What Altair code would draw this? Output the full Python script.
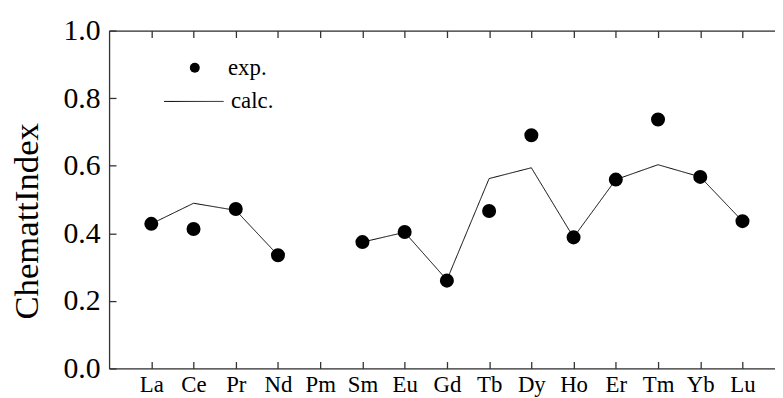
import altair as alt
import pandas as pd

elements = ["La", "Ce", "Pr", "Nd", "Pm", "Sm", "Eu", "Gd", "Tb", "Dy", "Ho", "Er", "Tm", "Yb", "Lu"]
exp_values = [0.428, 0.413, 0.472, 0.335, None, 0.374, 0.404, 0.260, 0.466, 0.690, 0.388, 0.559, 0.737, 0.567, 0.436]
calc_values = [0.428, 0.489, 0.468, 0.335, None, 0.374, 0.403, 0.262, 0.562, 0.594, 0.388, 0.559, 0.603, 0.567, 0.436]
y_tick_values = [0.0, 0.2, 0.4, 0.6, 0.8, 1.0]

positions = list(range(1, len(elements) + 1))
segments = []
s = 0
for v in calc_values:
    if v is None:
        s += 1
    segments.append(s)

calc_df = pd.DataFrame({"pos": positions, "element": elements, "value": calc_values,
                        "segment": segments, "series": "calc."}).dropna(subset=["value"])
exp_df = pd.DataFrame({"pos": positions, "element": elements, "value": exp_values,
                       "series": "exp."}).dropna(subset=["value"])

W, H = 672, 341
FONT = "'Liberation Serif', 'Times New Roman', Times, serif"
FRAME = "#333333"
x_scale = alt.Scale(domain=[0, 15.77], nice=False, zero=False)
y_scale = alt.Scale(domain=[0, 1], nice=False, zero=False)
label_expr = "[" + ",".join("'" + e + "'" for e in [""] + elements) + "][datum.value]"

# frame lines + labels
x_main = alt.Axis(orient="bottom", values=positions, labelExpr=label_expr, ticks=False, tickSize=0,
                  domain=True, domainColor=FRAME, domainWidth=1.3, labelFont=FONT, labelFontSize=23,
                  labelColor="black", labelPadding=5, grid=False, title=None, labelFlush=False,
                  labelOverlap=False)
x_top_domain = alt.Axis(orient="top", values=positions, labels=False, ticks=False, tickSize=0,
                        domain=True, domainColor=FRAME, domainWidth=1.3, grid=False, title=None)
y_main = alt.Axis(orient="left", values=y_tick_values, format=".1f", ticks=False, tickSize=0,
                  domain=True, domainColor=FRAME, domainWidth=1.3, labelFont=FONT, labelFontSize=30,
                  labelColor="black", labelPadding=9, grid=False, title="ChemattIndex",
                  titleFont=FONT, titleFontSize=35, titleFontWeight="normal", titleColor="black",
                  titleX=-72, titleY=192, titleBaseline="alphabetic", titleAlign="center",
                  labelFlush=False)
# inward ticks
x_bottom_ticks = alt.Axis(orient="bottom", values=positions, labels=False, ticks=True, tickSize=7,
                          tickColor=FRAME, tickWidth=1.3, domain=False, grid=False, offset=-7, title=None)
x_top_ticks = alt.Axis(orient="bottom", values=positions, labels=False, ticks=True, tickSize=7,
                       tickColor=FRAME, tickWidth=1.3, domain=False, grid=False, offset=-H, title=None)
y_left_ticks = alt.Axis(orient="right", values=y_tick_values, labels=False, ticks=True, tickSize=7,
                        tickColor=FRAME, tickWidth=1.3, domain=False, grid=False, offset=-W, title=None)

line = alt.Chart(calc_df).mark_line(color="black", strokeWidth=1).encode(
    x=alt.X("pos:Q", scale=x_scale, axis=x_main),
    y=alt.Y("value:Q", scale=y_scale, axis=y_main),
    detail="segment:N",
    strokeDash=alt.StrokeDash("series:N", scale=alt.Scale(domain=["calc."], range=[[1, 0]]),
                              legend=alt.Legend(orient="none", legendX=55, legendY=41, title=None,
                                                padding=0, symbolType="stroke", symbolSize=3600,
                                                symbolStrokeWidth=1, symbolStrokeColor="black",
                                                labelFont=FONT, labelFontSize=23, labelColor="black",
                                                labelOffset=7)),
)

points = alt.Chart(exp_df).mark_point(filled=True, size=200, color="black", opacity=1).encode(
    x=alt.X("pos:Q", scale=x_scale, axis=x_bottom_ticks),
    y=alt.Y("value:Q", scale=y_scale, axis=None),
    shape=alt.Shape("series:N", scale=alt.Scale(domain=["exp."], range=["circle"]),
                    legend=alt.Legend(orient="none", legendX=75, legendY=26, title=None, padding=0,
                                      symbolSize=100, symbolFillColor="black", symbolStrokeColor="black",
                                      labelFont=FONT, labelFontSize=23, labelColor="black",
                                      labelOffset=22)),
)

top_frame = alt.Chart(exp_df).mark_point(opacity=0).encode(
    x=alt.X("pos:Q", scale=x_scale, axis=x_top_domain),
    y=alt.Y("value:Q", scale=y_scale, axis=None),
)
tick_layer = alt.Chart(exp_df).mark_point(opacity=0).encode(
    x=alt.X("pos:Q", scale=x_scale, axis=x_top_ticks),
    y=alt.Y("value:Q", scale=y_scale, axis=y_left_ticks),
)

chart = alt.layer(line, points, top_frame, tick_layer).resolve_axis(
    x="independent", y="independent"
).properties(
    width=W, height=H,
    autosize=alt.AutoSizeParams(type="none"),
    padding={"left": 102, "top": 21, "right": 0, "bottom": 27},
).configure_view(stroke=None).configure(background="white")

chart.save("out.html", embed_options={"renderer": "svg", "actions": False})
